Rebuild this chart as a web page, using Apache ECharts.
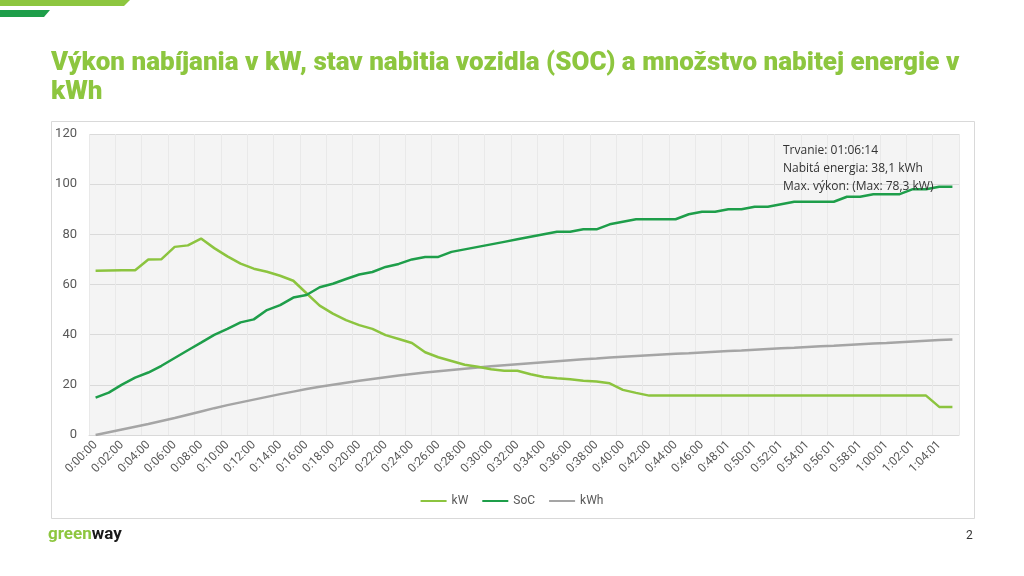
<!DOCTYPE html>
<html>
<head>
<meta charset="utf-8">
<script src="https://cdn.jsdelivr.net/npm/echarts@6/dist/echarts.min.js"></script>
<style>
html,body{margin:0;padding:0;background:#fff;}
#c{width:1024px;height:576px;}
</style>
</head>
<body>
<div id="c"></div>
<script>
const categories = [
 '0:00:00','0:01:00','0:02:00','0:03:00','0:04:00','0:05:00','0:06:00','0:07:00','0:08:00','0:09:00',
 '0:10:00','0:11:00','0:12:00','0:13:00','0:14:00','0:15:00','0:16:00','0:17:00','0:18:00','0:19:00',
 '0:20:00','0:21:00','0:22:00','0:23:00','0:24:00','0:25:00','0:26:00','0:27:00','0:28:00','0:29:00',
 '0:30:00','0:31:00','0:32:00','0:33:00','0:34:00','0:35:00','0:36:00','0:37:00','0:38:00','0:39:00',
 '0:40:00','0:41:00','0:42:00','0:43:00','0:44:00','0:45:00','0:46:00','0:47:00','0:48:01','0:49:01',
 '0:50:01','0:51:01','0:52:01','0:53:01','0:54:01','0:55:01','0:56:01','0:57:01','0:58:01','0:59:01',
 '1:00:01','1:01:01','1:02:01','1:03:01','1:04:01','1:05:01'
];
const kW = [
 65.5,65.6,65.7,65.7,70,70.1,75,75.6,78.3,74.5,
 71.2,68.3,66.3,65.1,63.5,61.5,56.5,51.6,48.4,45.8,
 43.8,42.3,39.8,38.3,36.7,33,31,29.5,28,27.2,
 26.2,25.6,25.6,24.2,23.1,22.6,22.2,21.6,21.3,20.6,
 18,16.8,15.7,15.7,15.7,15.7,15.7,15.7,15.7,15.7,
 15.7,15.7,15.7,15.7,15.7,15.7,15.7,15.7,15.7,15.7,
 15.7,15.7,15.7,15.7,11.2,11.2
];
const SoC = [
 14.9,16.9,20.1,22.9,24.9,27.6,30.7,33.8,36.8,39.9,
 42.3,44.9,46.1,49.8,51.8,54.8,55.8,58.9,60.3,62.2,
 64,65,67,68.2,70,71,71,73,74,75,
 76,77,78,79,80,81,81,82,82,84,
 85,86,86,86,86,88,89,89,90,90,
 91,91,92,93,93,93,93,95,95,96,
 96,96,98,98,99,99
];
const kWh = [
 0,1.1,2.2,3.3,4.4,5.6,6.8,8.1,9.4,10.7,
 11.9,13.0,14.1,15.2,16.3,17.3,18.3,19.2,20.0,20.8,
 21.6,22.3,23.0,23.7,24.3,24.9,25.4,25.9,26.4,26.9,
 27.4,27.8,28.2,28.6,29.0,29.4,29.8,30.2,30.5,30.9,
 31.2,31.5,31.8,32.1,32.4,32.6,32.9,33.2,33.5,33.7,
 34.0,34.3,34.6,34.8,35.1,35.4,35.6,35.9,36.2,36.5,
 36.7,37.0,37.3,37.6,37.9,38.1
];
const seriesNames = ['kW','SoC','kWh'];
const infoLines = ['Trvanie: 01:06:14','Nabitá energia: 38,1 kWh','Max. výkon: (Max: 78,3 kW)'];
const titleText = 'Výkon nabíjania v kW, stav nabitia vozidla (SOC) a množstvo nabitej energie v\nkWh';

// fine background grid categories (3 per data category) for the minor vertical lines
const fineCats = [];
for (let i = 0; i < categories.length * 3; i++) fineCats.push(String(i));

const chart = echarts.init(document.getElementById('c'));
chart.setOption({
  animation: false,
  backgroundColor: '#ffffff',
  textStyle: {fontFamily: 'Roboto'},
  title: {
    text: titleText,
    left: 46, top: 44,
    textStyle: {color: '#8dc63f', fontSize: 26, fontWeight: 900, fontFamily: 'Roboto', lineHeight: 29}
  },
  graphic: [
    {type: 'polygon', shape: {points: [[0,0],[130,0],[124,6],[0,6]]}, style: {fill: '#8dc63f'}},
    {type: 'polygon', shape: {points: [[0,10],[50,10],[44,17],[0,17]]}, style: {fill: '#1e9e4a'}},
    {type: 'rect', shape: {x: 51.5, y: 121.5, width: 923, height: 397}, style: {fill: 'none', stroke: '#d9d9d9', lineWidth: 1}, z: -10},
    {type: 'text', left: 783, top: 142, style: {text: infoLines.join('\n'), font: '12px "Open Sans"', lineHeight: 18, fill: '#333333'}, z: 100},
    {type: 'text', left: 48, top: 526, style: {text: '{g|green}{w|way}', rich: {g: {fill: '#8dc63f', font: 'bold 17px Roboto'}, w: {fill: '#1a1a1a', font: 'bold 17px Roboto'}}}},
    {type: 'text', left: 966, top: 530, style: {text: '2', font: '12px Roboto', fill: '#333'}}
  ],
  legend: {
    data: seriesNames,
    bottom: 64,
    left: 'center',
    itemWidth: 26, itemHeight: 2, itemGap: 14,
    icon: 'rect',
    textStyle: {color: '#595959', fontSize: 12, fontFamily: 'Roboto'}
  },
  grid: {left: 89, right: 65, top: 134, bottom: 141, backgroundColor: '#f4f4f4', show: true, borderWidth: 0},
  xAxis: [
    {
      type: 'category', data: categories, boundaryGap: true,
      axisLine: {lineStyle: {color: '#d9d9d9'}},
      axisTick: {show: false},
      axisLabel: {interval: 1, rotate: 45, color: '#595959', fontSize: 12, fontFamily: 'Roboto', margin: 8},
      splitLine: {show: true, interval: 1, lineStyle: {color: '#dcdcdc', width: 1}}
    },
    {
      type: 'category', data: fineCats, boundaryGap: true, position: 'bottom',
      axisLine: {show: false}, axisTick: {show: false}, axisLabel: {show: false},
      splitLine: {show: true, lineStyle: {color: '#e9e9e9', width: 1}}
    }
  ],
  yAxis: {
    type: 'value', min: 0, max: 120, interval: 20,
    axisLine: {show: false}, axisTick: {show: false},
    axisLabel: {color: '#595959', fontSize: 13, fontFamily: 'Roboto', margin: 12},
    splitLine: {lineStyle: {color: '#dadada', width: 1}}
  },
  series: [
    {name: 'kW', type: 'line', data: kW, xAxisIndex: 0, showSymbol: false, symbol: 'none', lineStyle: {color: '#8cc43f', width: 2.5}, itemStyle: {color: '#8cc43f'}, z: 3},
    {name: 'SoC', type: 'line', data: SoC, xAxisIndex: 0, showSymbol: false, symbol: 'none', lineStyle: {color: '#1e9e4a', width: 2.5}, itemStyle: {color: '#1e9e4a'}, z: 4},
    {name: 'kWh', type: 'line', data: kWh, xAxisIndex: 0, showSymbol: false, symbol: 'none', lineStyle: {color: '#a5a5a5', width: 2.5}, itemStyle: {color: '#a5a5a5'}, z: 2}
  ]
});
</script>
</body>
</html>
